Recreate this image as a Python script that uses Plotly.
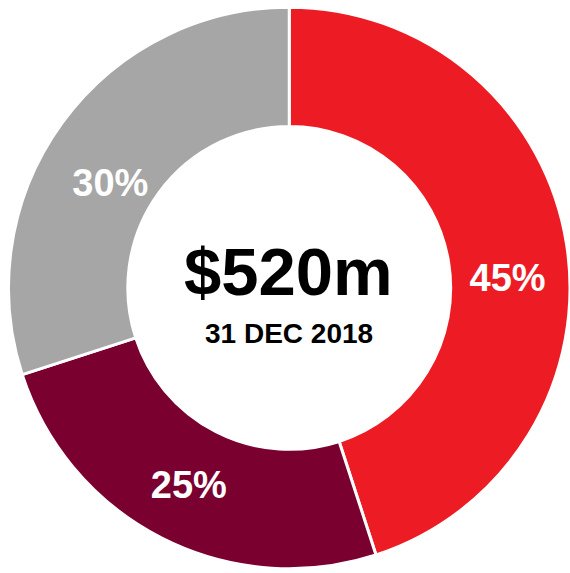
import plotly.graph_objects as go

labels = ["A", "B", "C"]
values = [45, 25, 30]
colors = ["#ED1C24", "#7A0030", "#A6A6A6"]
total_label = "$520m"
date_label = "31 DEC 2018"

FONT = "Liberation Sans, Arial, sans-serif"

fig = go.Figure(go.Pie(
    labels=labels,
    values=values,
    hole=0.575,
    sort=False,
    direction="clockwise",
    rotation=0,
    marker=dict(colors=colors, line=dict(color="white", width=3)),
    texttemplate=["&nbsp;<br>%{value}%", "%{value}%", "&nbsp;<br>%{value}%"],
    textposition="inside",
    insidetextorientation="horizontal",
    textfont=dict(family=FONT, size=38, color="white", weight="bold"),
    showlegend=False,
    hoverinfo="skip",
    domain=dict(x=[0.0149, 1.0], y=[0.007, 0.988]),
))

fig.add_annotation(x=0.507, y=0.526, xref="paper", yref="paper", text=f"<b>{total_label}</b>",
                   showarrow=False, font=dict(family=FONT, size=67, color="black"))
fig.add_annotation(x=0.507, y=0.418, xref="paper", yref="paper", text=f"<b>{date_label}</b>",
                   showarrow=False, font=dict(family=FONT, size=28, color="black"))

fig.update_layout(width=570, height=573, margin=dict(l=0, r=0, t=0, b=0),
                  paper_bgcolor="white", plot_bgcolor="white")
fig.write_html("out.html", config={"displayModeBar": False},
               post_script="document.body.style.margin='0';")
